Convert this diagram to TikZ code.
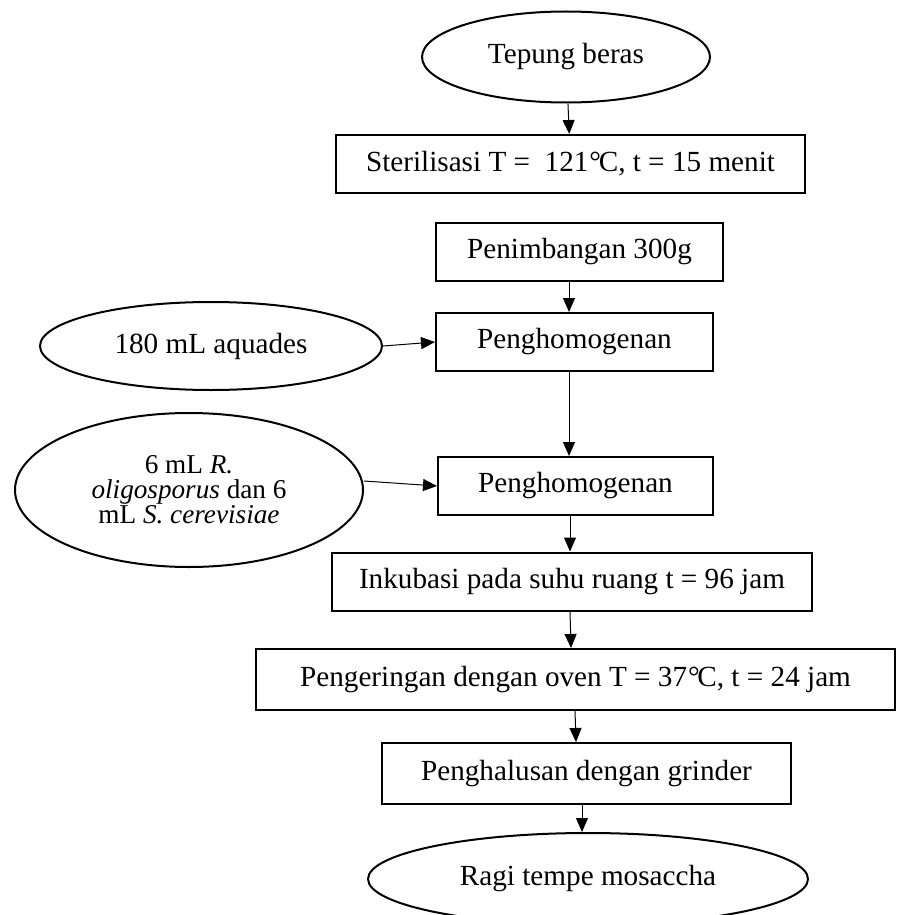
\documentclass[tikz,border=0pt]{standalone}
\usepackage{fontspec}
\setmainfont{Liberation Serif}
\usetikzlibrary{arrows.meta,shapes.geometric}

\newcommand{\degC}{\kern0.03em°\kern-0.08em C}

\begin{document}
\begin{tikzpicture}[x=0.5pt,y=-0.5pt,
    box/.style={rectangle, draw, line width=1pt, inner sep=0pt, minimum height=29pt},
    oval/.style={ellipse, draw, line width=1pt, inner sep=0pt},
    arr/.style={-{Triangle[length=7pt,width=6pt]}, line width=0.5pt},
    every node/.append style={font=\fontsize{14.6}{17}\selectfont}]
    \useasboundingbox (0,0) rectangle (896,915);
    \node (tepung) at (566,57) [oval, minimum width=144pt, minimum height=45.5pt] {Tepung beras};
    \node (steril) at (570.5,164) [box, minimum width=234.5pt] {Sterilisasi T = \ 121\degC, t = 15 menit};
    \node (timbang) at (579.5,252) [box, minimum width=143.5pt] {Penimbangan 300g};
    \node (homog1) at (574.5,342) [box, minimum width=138.5pt] {Penghomogenan};
    \node (aquades) at (211,346) [oval, minimum width=171pt, minimum height=44pt] {180 mL aquades};
    \node (homog2) at (575.5,486) [box, minimum width=137.5pt] {Penghomogenan};
    \node (kultur) at (189,490) [oval, minimum width=174pt, minimum height=77pt, align=center,
        font=\fontsize{13.6}{12.5}\selectfont] {6 mL \textit{R.}\\ \textit{oligosporus} dan 6\\ mL \textit{S. cerevisiae}};
    \node (inkubasi) at (572,581.5) [box, minimum width=240pt] {Inkubasi pada suhu ruang t = 96 jam};
    \node (kering) at (575.5,679.5) [box, minimum width=319.5pt, minimum height=30.5pt] {Pengeringan dengan oven T = 37\degC, t = 24 jam};
    \node (halus) at (586.5,773.5) [box, minimum width=204.5pt, minimum height=30.5pt] {Penghalusan dengan grinder};
    \node (ragi) at (588,879) [oval, minimum width=220pt, minimum height=46pt] {Ragi tempe mosaccha};
    % alur proses
    \draw[arr] (tepung) -- (steril);
    \draw[arr] (timbang.south -| 569,0) -- (homog1.north -| 569,0);
    \draw[arr] (homog1.south -| 569,0) -- (homog2.north -| 569,0);
    \draw[arr] (aquades.east) -- (homog1.west);
    \draw[arr] (kultur.east |- 0,481) -- (homog2.west);
    \draw[arr] (homog2.south -| 570,0) -- (inkubasi.north -| 570,0);
    \draw[arr] (inkubasi.south -| 570,0) -- (kering.north -| 571,0);
    \draw[arr] (kering.south -| 575,0) -- (halus.north -| 576,0);
    \draw[arr] (halus.south -| 582,0) -- (ragi.north -| 582,0);
\end{tikzpicture}
\end{document}
